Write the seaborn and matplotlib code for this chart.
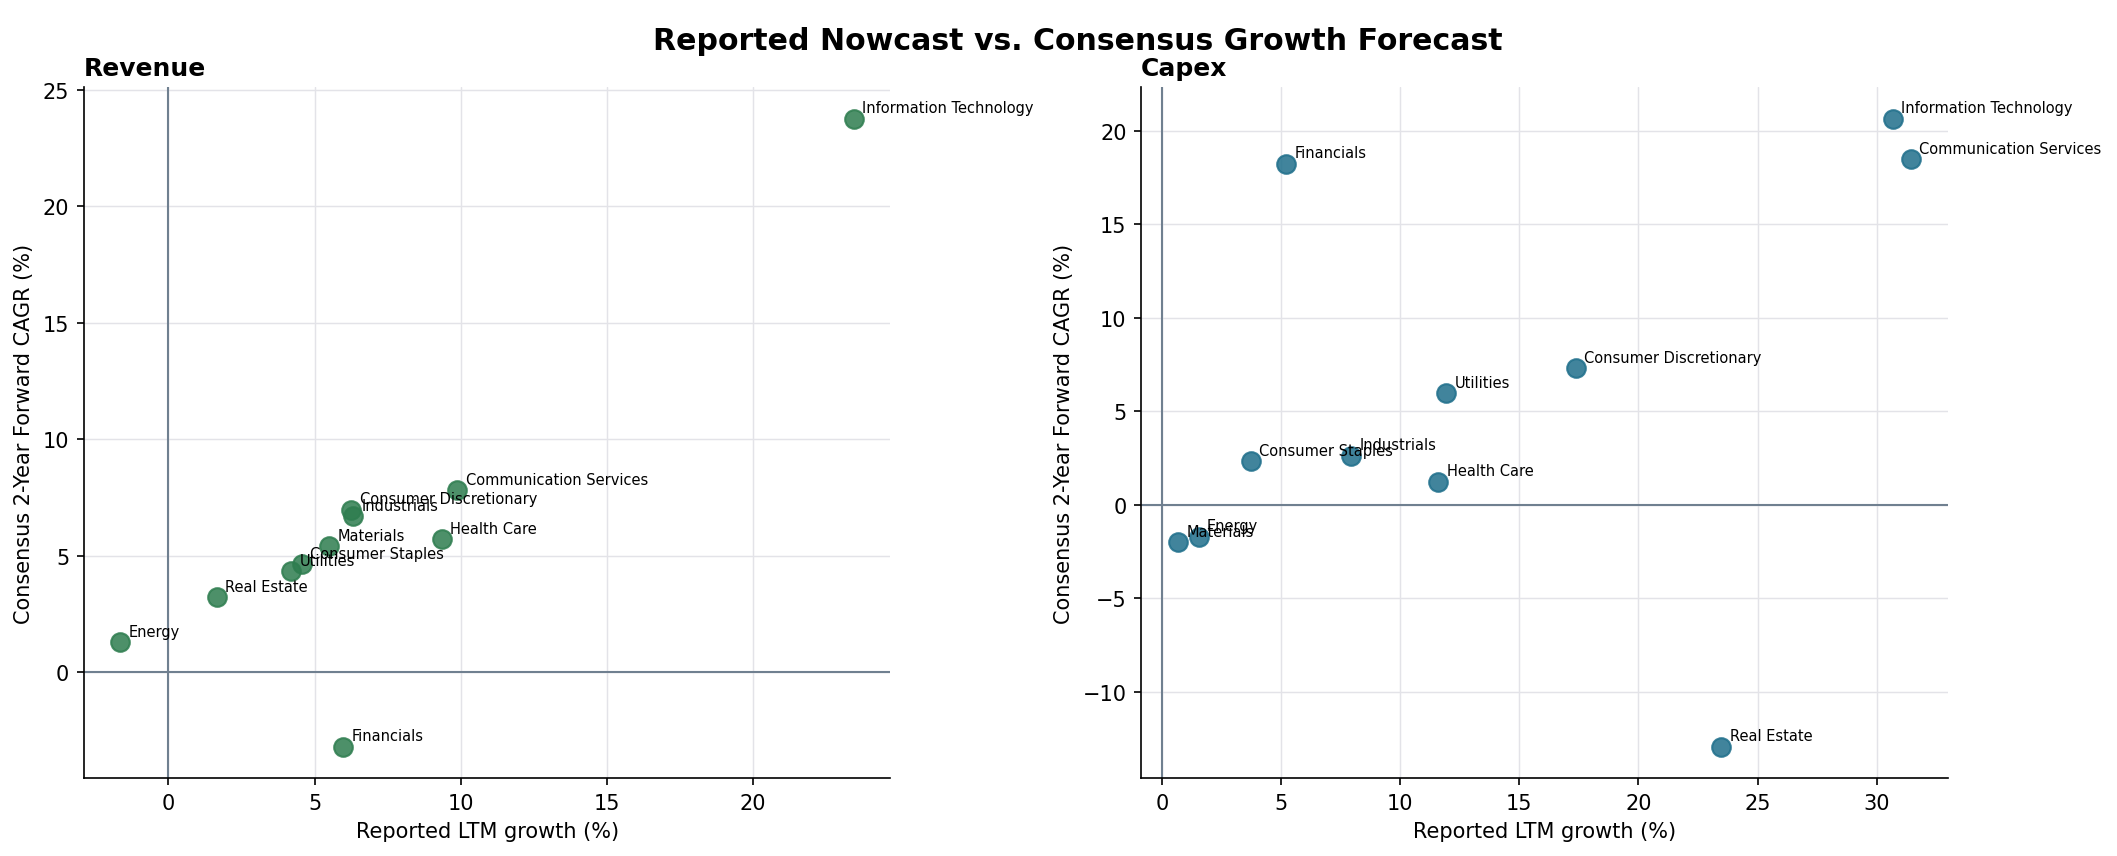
import numpy as np
import pandas as pd
import seaborn as sns
import matplotlib
matplotlib.use('Agg')
import matplotlib.pyplot as plt

# Datos
sectores_rev = ['Information Technology', 'Communication Services', 'Consumer Discretionary',
                'Industrials', 'Health Care', 'Materials', 'Consumer Staples', 'Utilities',
                'Real Estate', 'Energy', 'Financials']
rev_ltm = [23.44, 9.88, 6.26, 6.33, 9.35, 5.50, 4.57, 4.20, 1.66, -1.64, 5.98]
rev_cagr = [23.75, 7.83, 6.98, 6.70, 5.73, 5.41, 4.66, 4.33, 3.23, 1.31, -3.18]

sectores_capex = ['Information Technology', 'Communication Services', 'Financials',
                  'Consumer Discretionary', 'Utilities', 'Consumer Staples', 'Industrials',
                  'Health Care', 'Energy', 'Materials', 'Real Estate']
capex_ltm = [30.69, 31.44, 5.22, 17.36, 11.94, 3.72, 7.93, 11.60, 1.53, 0.66, 23.48]
capex_cagr = [20.64, 18.49, 18.24, 7.30, 5.96, 2.35, 2.63, 1.24, -1.70, -2.01, -12.92]

rev = pd.DataFrame({'sector': sectores_rev, 'ltm': rev_ltm, 'cagr': rev_cagr})
capex = pd.DataFrame({'sector': sectores_capex, 'ltm': capex_ltm, 'cagr': capex_cagr})

sns.set_style('ticks')
plt.rcParams['font.family'] = ['DejaVu Sans']
plt.rcParams.update({'text.color': 'black', 'axes.labelcolor': 'black',
                     'xtick.color': 'black', 'ytick.color': 'black',
                     'axes.edgecolor': 'black'})

fig = plt.figure(figsize=(2117 / 150, 857 / 150), dpi=150)
gs = fig.add_gridspec(1, 2, left=0.0396, right=0.920, bottom=0.091, top=0.897, wspace=0.311)
axes = [fig.add_subplot(gs[0, 0]), fig.add_subplot(gs[0, 1])]

paneles = [(rev, 'Revenue', '#2e7d4f'), (capex, 'Capex', '#1f6f8b')]

for ax, (df, titulo, color) in zip(axes, paneles):
    sns.scatterplot(data=df, x='ltm', y='cagr', ax=ax, s=80, color=color,
                    edgecolor=color, linewidth=1, alpha=0.85, zorder=3)
    # líneas de referencia después del scatter para no alterar los límites
    ax.axhline(0, color='#708090', lw=1, zorder=1)
    ax.axvline(0, color='#708090', lw=1, zorder=1)
    for _, fila in df.iterrows():
        ax.annotate(fila['sector'], (fila['ltm'], fila['cagr']), xytext=(4, 3),
                    textcoords='offset points', fontsize=7)
    ax.grid(True, color='#e3e3e8', lw=0.7)
    ax.set_axisbelow(True)
    ax.set_title(titulo, loc='left', fontweight='bold', fontsize=12)
    ax.set_xlabel('Reported LTM growth (%)')
    ax.set_ylabel('Consensus 2-Year Forward CAGR (%)')
    sns.despine(ax=ax)

fig.suptitle('Reported Nowcast vs. Consensus Growth Forecast', fontsize=14.4,
             fontweight='bold', x=0.509, y=0.968)
fig.savefig('out.png', dpi=150)
